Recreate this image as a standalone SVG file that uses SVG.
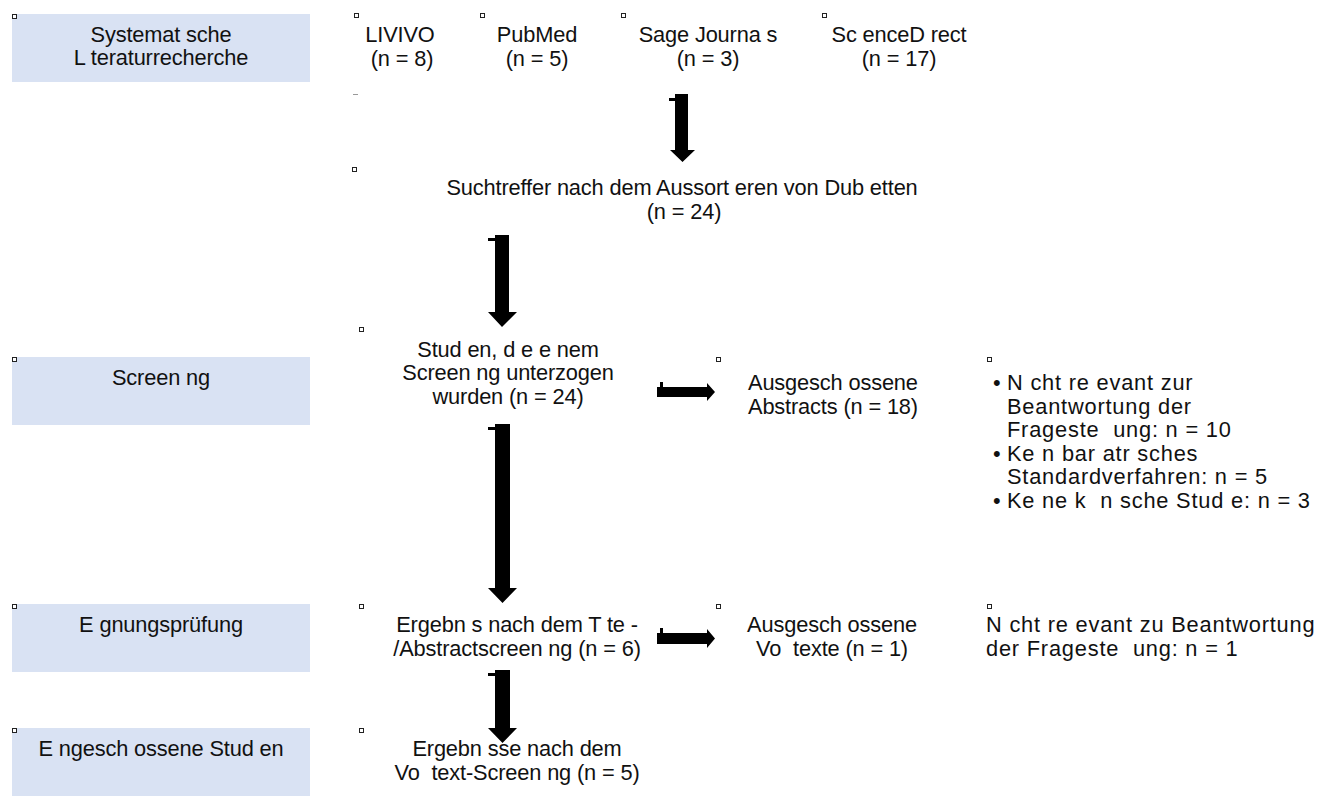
<svg xmlns="http://www.w3.org/2000/svg" width="1324" height="803" viewBox="0 0 1324 803">
<style>
text{font-family:"Liberation Sans",Arial,sans-serif;font-size:21.8px;fill:#111;white-space:pre;letter-spacing:-0.15px}
.c{text-anchor:middle}
.r{letter-spacing:0.8px}
.stage{fill:#D9E2F3}
.mk{fill:#fff;stroke:#222;stroke-width:1}
.arr{fill:#000}
</style>
<rect width="1324" height="803" fill="#fff"/>
<g id="stage-literatur">
<rect class="stage" x="12" y="14" width="298" height="68"/>
<rect class="mk" x="12.5" y="14.5" width="4" height="4"/>
<text class="c" x="161" y="42">Systemat sche</text>
<text class="c" x="161" y="65">L teraturrecherche</text>
</g>
<g id="stage-screening">
<rect class="stage" x="12" y="357" width="298" height="68"/>
<rect class="mk" x="12.5" y="357.5" width="4" height="4"/>
<text class="c" x="161" y="385">Screen ng</text>
</g>
<g id="stage-eignung">
<rect class="stage" x="12" y="604" width="298" height="68"/>
<rect class="mk" x="12.5" y="604.5" width="4" height="4"/>
<text class="c" x="161" y="632">E gnungsprüfung</text>
</g>
<g id="stage-eingeschlossen">
<rect class="stage" x="12" y="728" width="298" height="68"/>
<rect class="mk" x="12.5" y="728.5" width="4" height="4"/>
<text class="c" x="161" y="756">E ngesch ossene Stud en</text>
</g>
<g id="src-livivo">
<rect class="mk" x="354.5" y="13.5" width="4" height="4"/>
<text class="c" x="400" y="42">LIVIVO</text>
<text class="c" x="402" y="66">(n = 8)</text>
<rect x="353" y="94" width="5" height="1" fill="#999"/>
</g>
<g id="src-pubmed">
<rect class="mk" x="480.5" y="13.5" width="4" height="4"/>
<text class="c" x="537" y="42">PubMed</text>
<text class="c" x="537" y="66">(n = 5)</text>
</g>
<g id="src-sage">
<rect class="mk" x="621.5" y="13.5" width="4" height="4"/>
<text class="c" x="708" y="42">Sage Journa s</text>
<text class="c" x="708" y="66">(n = 3)</text>
</g>
<g id="src-sciencedirect">
<rect class="mk" x="822.5" y="13.5" width="4" height="4"/>
<text class="c" x="899" y="42">Sc enceD rect</text>
<text class="c" x="899" y="66">(n = 17)</text>
</g>
<g id="n-suchtreffer">
<rect class="mk" x="352.5" y="167.5" width="4" height="4"/>
<text class="c" x="682" y="195">Suchtreffer nach dem Aussort eren von Dub etten</text>
<text class="c" x="684" y="219">(n = 24)</text>
</g>
<g id="n-screening">
<rect class="mk" x="359.5" y="327.5" width="4" height="4"/>
<text class="c" x="508" y="357">Stud en, d e e nem</text>
<text class="c" x="508" y="380">Screen ng unterzogen</text>
<text class="c" x="508" y="404">wurden (n = 24)</text>
</g>
<g id="n-excl-abstracts">
<rect class="mk" x="716.5" y="357.5" width="4" height="4"/>
<text x="748" y="390">Ausgesch ossene</text>
<text x="748" y="414">Abstracts (n = 18)</text>
</g>
<g id="n-reasons-abstracts">
<rect class="mk" x="987.5" y="357.5" width="4" height="4"/>
<text x="993" y="390">•</text>
<text class="r" x="1007" y="390">N cht re evant zur</text>
<text class="r" x="1007" y="414">Beantwortung der</text>
<text class="r" x="1007" y="437">Frageste  ung: n = 10</text>
<text x="993" y="461">•</text>
<text class="r" x="1007" y="461">Ke n bar atr sches</text>
<text class="r" x="1007" y="484">Standardverfahren: n = 5</text>
<text x="993" y="508">•</text>
<text class="r" x="1007" y="508">Ke ne k  n sche Stud e: n = 3</text>
</g>
<g id="n-eignung">
<rect class="mk" x="359.5" y="604.5" width="4" height="4"/>
<text class="c" x="517" y="632">Ergebn s nach dem T te -</text>
<text class="c" x="517" y="656">/Abstractscreen ng (n = 6)</text>
</g>
<g id="n-excl-volltexte">
<rect class="mk" x="716.5" y="604.5" width="4" height="4"/>
<text class="c" x="832" y="632">Ausgesch ossene</text>
<text class="c" x="832" y="656">Vo  texte (n = 1)</text>
</g>
<g id="n-reasons-volltexte">
<rect class="mk" x="987.5" y="604.5" width="4" height="4"/>
<text class="r" x="986" y="632">N cht re evant zu Beantwortung</text>
<text class="r" x="986" y="656">der Frageste  ung: n = 1</text>
</g>
<g id="n-final">
<rect class="mk" x="359.5" y="728.5" width="4" height="4"/>
<text class="c" x="517" y="756">Ergebn sse nach dem</text>
<text class="c" x="517" y="780">Vo  text-Screen ng (n = 5)</text>
</g>
<g id="connectors">
<polygon class="arr" points="675,94 688,94 688,150 695,150 682.5,162 670,150 675,150"/>
<rect class="arr" x="669" y="98" width="6" height="3"/>
<polygon class="arr" points="495,235 509,235 509,312 517,312 502,327 488,312 495,312"/>
<rect class="arr" x="488" y="238" width="7" height="3"/>
<polygon class="arr" points="495,424 510,424 510,588 517,588 502.5,603 488,588 495,588"/>
<rect class="arr" x="488" y="427" width="7" height="3"/>
<polygon class="arr" points="495,670 510,670 510,728 517,728 502.5,743 488,728 495,728"/>
<rect class="arr" x="488" y="673" width="7" height="3"/>
<polygon class="arr" points="657,387 707,387 707,383 715,392 707,401 707,397 657,397"/>
<rect class="arr" x="660" y="382" width="3" height="5"/>
<polygon class="arr" points="657,633 707,633 707,629 715,638.5 707,648 707,644 657,644"/>
<rect class="arr" x="660" y="628" width="3" height="5"/>
</g>
</svg>
